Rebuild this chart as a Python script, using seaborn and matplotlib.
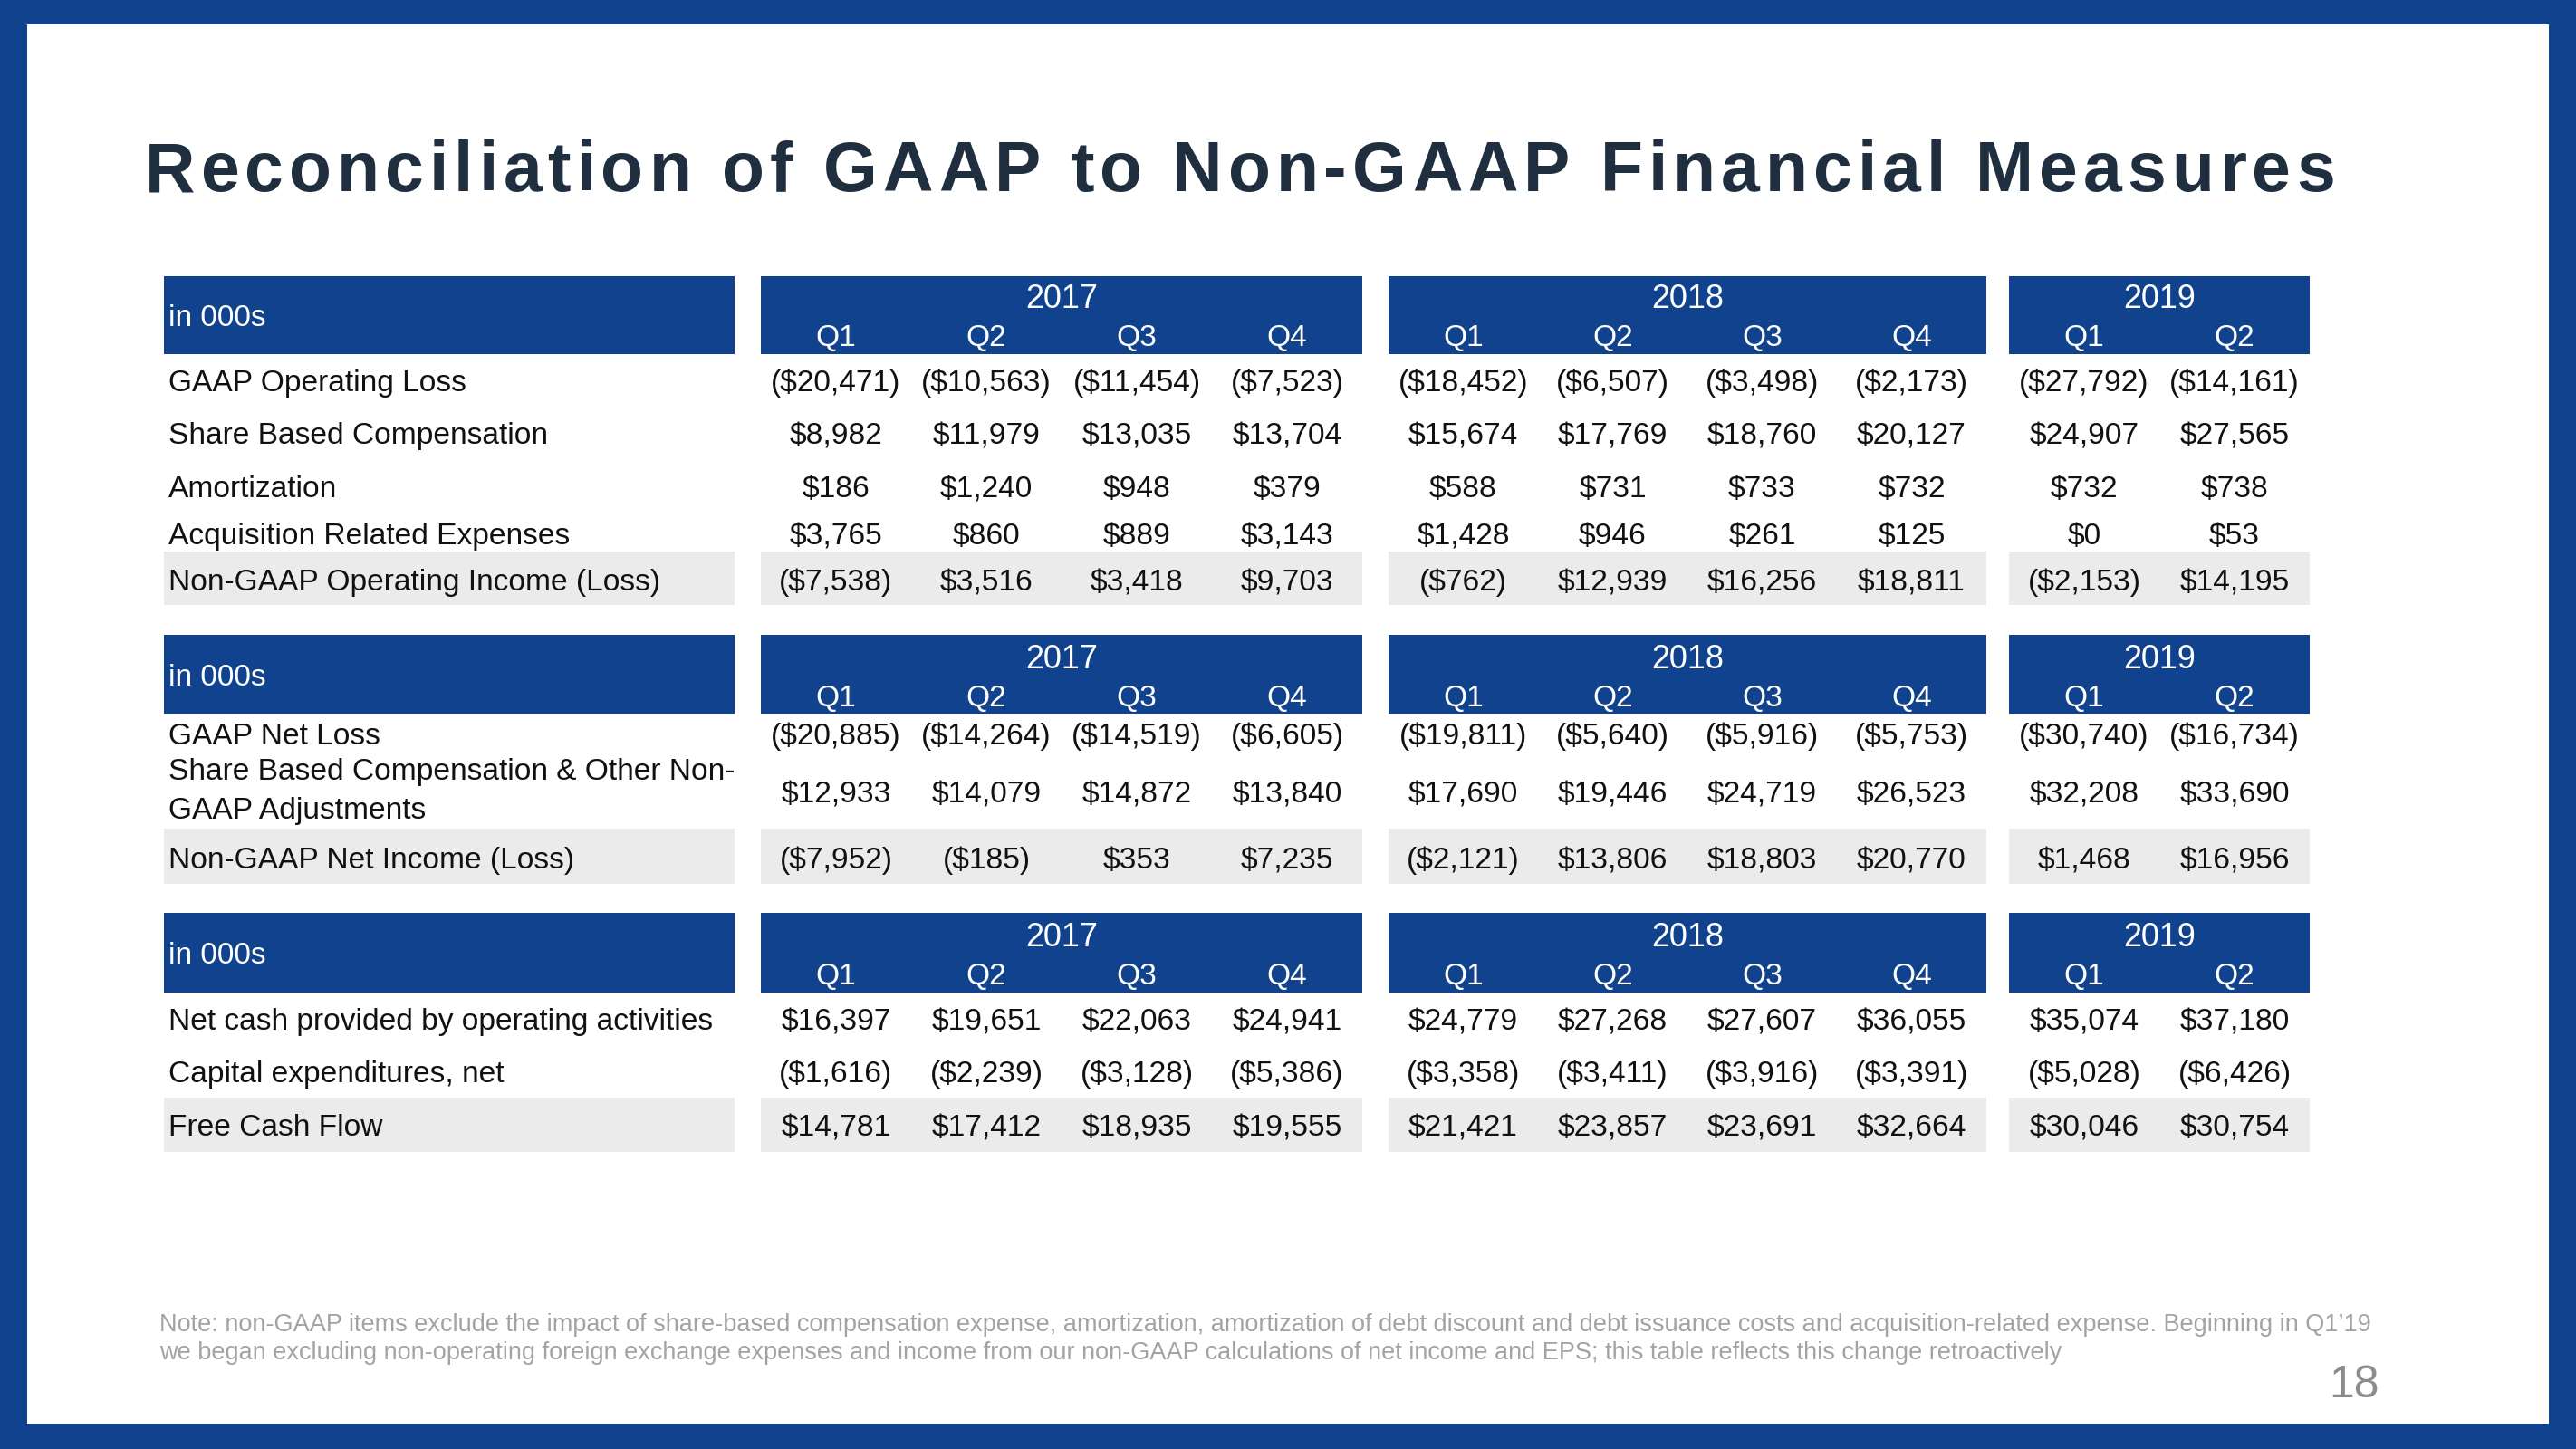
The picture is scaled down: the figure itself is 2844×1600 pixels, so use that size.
import matplotlib
matplotlib.use("Agg")
import matplotlib.pyplot as plt
from matplotlib import font_manager
from matplotlib.ft2font import FT2Font
from matplotlib.patches import Rectangle
import seaborn as sns

sns.set_theme(style="white")
plt.rcParams["font.family"] = ["Liberation Sans", "DejaVu Sans"]

# ---- data ----
years = ["2017", "2018", "2019"]
year_quarters = [["Q1", "Q2", "Q3", "Q4"], ["Q1", "Q2", "Q3", "Q4"], ["Q1", "Q2"]]

op_labels = ["GAAP Operating Loss", "Share Based Compensation", "Amortization",
             "Acquisition Related Expenses", "Non-GAAP Operating Income (Loss)"]
gaap_op_loss = [-20471, -10563, -11454, -7523, -18452, -6507, -3498, -2173, -27792, -14161]
share_comp = [8982, 11979, 13035, 13704, 15674, 17769, 18760, 20127, 24907, 27565]
amortization = [186, 1240, 948, 379, 588, 731, 733, 732, 732, 738]
acquisition = [3765, 860, 889, 3143, 1428, 946, 261, 125, 0, 53]
non_gaap_op = [-7538, 3516, 3418, 9703, -762, 12939, 16256, 18811, -2153, 14195]

net_labels = ["GAAP Net Loss", "Share Based Compensation & Other Non-\nGAAP Adjustments",
              "Non-GAAP Net Income (Loss)"]
gaap_net_loss = [-20885, -14264, -14519, -6605, -19811, -5640, -5916, -5753, -30740, -16734]
comp_other = [12933, 14079, 14872, 13840, 17690, 19446, 24719, 26523, 32208, 33690]
non_gaap_net = [-7952, -185, 353, 7235, -2121, 13806, 18803, 20770, 1468, 16956]

cash_labels = ["Net cash provided by operating activities", "Capital expenditures, net",
               "Free Cash Flow"]
op_cash = [16397, 19651, 22063, 24941, 24779, 27268, 27607, 36055, 35074, 37180]
capex = [-1616, -2239, -3128, -5386, -3358, -3411, -3916, -3391, -5028, -6426]
free_cash = [14781, 17412, 18935, 19555, 21421, 23857, 23691, 32664, 30046, 30754]

title = "Reconciliation of GAAP to Non-GAAP Financial Measures"
unit_label = "in 000s"
note_lines = [
    "Note: non-GAAP items exclude the impact of share-based compensation expense, amortization, "
    "amortization of debt discount and debt issuance costs and acquisition-related expense. Beginning in Q1\u201919",
    "we began excluding non-operating foreign exchange expenses and income from our non-GAAP "
    "calculations of net income and EPS; this table reflects this change retroactively",
]
page_no = "18"

# ---- layout (pixels) ----
BLUE = "#11428D"
GREY_BAND = "#EBEBEB"
TITLE_C = "#1F2F3F"
W, H = 2844, 1600
PT = 0.72  # px -> pt at dpi 100
LABEL_X = (181, 811)
BLOCKS = [(840, 1504), (1533, 2193), (2218, 2550)]

sections = [
    dict(head=(305, 391), year_y=327, q_y=370, unit_y=348, band=(609, 668),
         labels=op_labels, rows=[gaap_op_loss, share_comp, amortization, acquisition, non_gaap_op],
         row_y=[420, 478, 537, 589, 640]),
    dict(head=(701, 788), year_y=725, q_y=768, unit_y=745, band=(915, 976),
         labels=net_labels, rows=[gaap_net_loss, comp_other, non_gaap_net],
         row_y=[810, 874, 947]),
    dict(head=(1008, 1096), year_y=1032, q_y=1075, unit_y=1052, band=(1212, 1272),
         labels=cash_labels, rows=[op_cash, capex, free_cash],
         row_y=[1125, 1183, 1242]),
]


def money(v):
    return f"(${-v:,})" if v < 0 else f"${v:,}"


def font_path(family, weight="normal"):
    return font_manager.findfont(font_manager.FontProperties(family=family, weight=weight))


def advances(text, path, size_pt):
    ft = FT2Font(path)
    ft.set_size(size_pt, 100)
    return [ft.load_char(ord(c)).linearHoriAdvance / 65536 for c in text]


names = {f.name for f in font_manager.fontManager.ttflist}
title_family = "Liberation Sans Narrow" if "Liberation Sans Narrow" in names else "Liberation Sans"

fig = plt.figure(figsize=(W / 100, H / 100), dpi=100)
fig.patch.set_facecolor(BLUE)
ax = fig.add_axes([0, 0, 1, 1])
ax.set_xlim(0, W)
ax.set_ylim(H, 0)
ax.axis("off")
ax.add_patch(Rectangle((30, 27), W - 60, H - 55, color="white", lw=0))

# title with letter spacing
t_path = font_path(title_family, "bold")
t_px = 64 / 0.716
t_x0, t_x1 = 160, 2579
adv = advances(title, t_path, t_px * PT)
track = (t_x1 - t_x0 - sum(adv)) / (len(title) - 1)
if track < 6:
    scale = (t_x1 - t_x0 - 6 * (len(title) - 1)) / sum(adv)
    t_px *= scale
    adv = advances(title, t_path, t_px * PT)
    track = 6
x = t_x0
for ch, a in zip(title, adv):
    ax.text(x, 211, ch, fontsize=t_px * PT, fontweight="bold", color=TITLE_C,
            family=title_family, ha="left", va="baseline")
    x += a + track

body_px = 33.5
body_pt = body_px * PT
base = 0.36 * body_px

for sec in sections:
    h0, h1 = sec["head"]
    ax.add_patch(Rectangle((LABEL_X[0], h0), LABEL_X[1] - LABEL_X[0], h1 - h0, color=BLUE, lw=0))
    ax.text(LABEL_X[0] + 5, sec["unit_y"] + base, unit_label, fontsize=body_pt, color="white",
            ha="left", va="baseline")
    b0, b1 = sec["band"]
    ax.add_patch(Rectangle((LABEL_X[0], b0), LABEL_X[1] - LABEL_X[0], b1 - b0, color=GREY_BAND, lw=0))
    col_centers = []
    for (x0, x1), yr, qs in zip(BLOCKS, years, year_quarters):
        ax.add_patch(Rectangle((x0, h0), x1 - x0, h1 - h0, color=BLUE, lw=0))
        ax.add_patch(Rectangle((x0, b0), x1 - x0, b1 - b0, color=GREY_BAND, lw=0))
        ax.text((x0 + x1) / 2, sec["year_y"] + 0.36 * 36, yr, fontsize=36 * PT, color="white",
                ha="center", va="baseline")
        cw = (x1 - x0) / len(qs)
        for i, q in enumerate(qs):
            cx = x0 + (i + 0.5) * cw
            col_centers.append(cx)
            ax.text(cx, sec["q_y"] + base, q, fontsize=body_pt, color="white",
                    ha="center", va="baseline")
    for lab, vals, y in zip(sec["labels"], sec["rows"], sec["row_y"]):
        if "\n" in lab:
            ax.text(LABEL_X[0] + 5, y, lab, fontsize=body_pt, color="#111111", ha="left",
                    va="center", linespacing=1.5)
        else:
            ax.text(LABEL_X[0] + 5, y + base, lab, fontsize=body_pt, color="#111111",
                    ha="left", va="baseline")
        for cx, v in zip(col_centers, vals):
            ax.text(cx, y + base, money(v), fontsize=body_pt, color="#111111", ha="center",
                    va="baseline", parse_math=False)

# footnote, fitted to its width
n_path = font_path("Liberation Sans")
n_pt = 2441 / sum(advances(note_lines[0], n_path, 10)) * 10
n_px = n_pt / PT
for line, yc in zip(note_lines, [1462, 1493]):
    ax.text(176, yc + 0.3 * n_px, line, fontsize=n_pt, color="#A3A3A3", ha="left",
            va="baseline")

ax.text(2627, 1543, page_no, fontsize=50 * PT, color="#8C8C8C", ha="right", va="baseline")

fig.savefig("out.png", dpi=100, facecolor=fig.get_facecolor())
